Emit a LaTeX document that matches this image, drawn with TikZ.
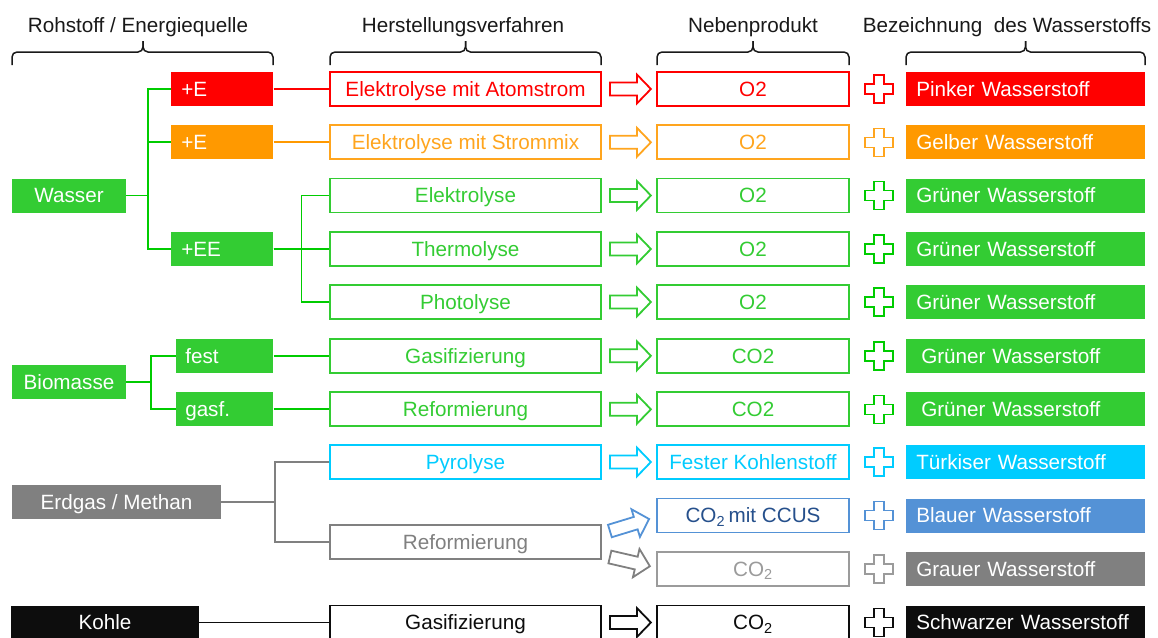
\documentclass[tikz,border=0pt]{standalone}
\usepackage{fontspec}
\setmainfont{Liberation Sans}
\newlength\pxu \setlength\pxu{0.75pt}
\definecolor{cRed}{RGB}{255,0,0}
\definecolor{cOrange}{RGB}{255,153,0}
\definecolor{cOrangeL}{RGB}{255,165,30}
\definecolor{cGreen}{RGB}{51,204,51}
\definecolor{cLine}{RGB}{0,204,0}
\definecolor{cCyan}{RGB}{0,204,255}
\definecolor{cBlue}{RGB}{84,146,214}
\definecolor{cDBlue}{RGB}{38,80,140}
\definecolor{cGrey}{RGB}{128,128,128}
\definecolor{cGreyL}{RGB}{155,155,155}
\definecolor{cBlack}{RGB}{13,13,13}
\definecolor{cHead}{RGB}{25,25,25}
\newcommand\mybrace[3]{%
  \draw[brace] (#1,65) -- (#1,52) -- (#3,52) -- (#3,41);
  \draw[brace] (#2,65) -- (#2,52) -- (#3,52) -- (#3,41);}
\tikzset{
  base/.style={font=\fontsize{15.5}{18}\selectfont, inner sep=0pt, text height=11.1pt, text depth=0pt},
  hdr/.style={base, text=cHead},
  cbox/.style={base, fill=#1, text=white, minimum height=34\pxu},
  lbox/.style={base, fill=#1, text=white, minimum height=34\pxu, align=left, inner xsep=10\pxu, anchor=west},
  obox/.style={base, draw=#1, text=#1, fill=white, line width=1.8\pxu, minimum height=34\pxu},
  proc/.style={obox=#1, minimum width=271\pxu},
  prod/.style={obox=#1, minimum width=192\pxu},
  link/.style={draw=#1, line width=1.8\pxu},
  brace/.style={draw=cHead, line width=1.5\pxu, rounded corners=5\pxu},
  blockarrow/.pic={\path[pic actions, fill=white, line join=miter, line width=1.8\pxu]
    (0,-6.5) -- (27,-6.5) -- (27,-14.5) -- (41,0) -- (27,14.5) -- (27,6.5) -- (0,6.5) -- cycle;},
  plusmark/.pic={\path[pic actions, fill=white, line join=miter, line width=1.5\pxu]
    (-5,-14) -- (5,-14) -- (5,-5) -- (14,-5) -- (14,5) -- (5,5) -- (5,14) -- (-5,14) -- (-5,5)
    -- (-14,5) -- (-14,-5) -- (-5,-5) -- cycle;},
}
\begin{document}
\begin{tikzpicture}[x=0.75pt,y=-0.75pt]
\useasboundingbox (0,0) rectangle (1158,637);
\clip (0,0) rectangle (1158,637);

% headers
\node[hdr] (hRoh) at (138,25) {Rohstoff / Energiequelle};
\node[hdr] (hHer) at (463,25) {Herstellungsverfahren};
\node[hdr] (hNeb) at (753,25) {Nebenprodukt};
\node[hdr] (hBez) at (1007,25) {Bezeichnung~ des Wasserstoffs};
\mybrace{12}{273}{143}
\mybrace{330}{601}{465.5}
\mybrace{657}{849}{753}
\mybrace{906}{1145}{1025.5}

% sources
\node[cbox=cGreen, minimum width=114\pxu] (wasser) at (69,195.5) {Wasser};
\node[lbox=cRed, text width=82\pxu] (eA) at (171,89) {+E};
\node[lbox=cOrange, text width=82\pxu] (eB) at (171,142.3) {+E};
\node[lbox=cGreen, text width=82\pxu] (eE) at (171,249) {+EE};
\node[cbox=cGreen, minimum width=114\pxu] (bio) at (69,382) {Biomasse};
\node[lbox=cGreen, text width=79\pxu, inner xsep=9\pxu] (fest) at (176,355.8) {fest};
\node[lbox=cGreen, text width=79\pxu, inner xsep=9\pxu] (gasf) at (176,409.3) {gasf.};
\node[cbox=cGrey, minimum width=209\pxu] (erdgas) at (116.5,502) {Erdgas / Methan};
\node[cbox=cBlack, minimum width=188\pxu] (kohle) at (105,622.5) {Kohle};

% processes
\node[proc=cRed] (p1) at (465.5,89) {Elektrolyse mit Atomstrom};
\node[proc=cOrangeL] (p2) at (465.5,142.3) {Elektrolyse mit Strommix};
\node[proc=cGreen] (p3) at (465.5,195.5) {Elektrolyse};
\node[proc=cGreen] (p4) at (465.5,249) {Thermolyse};
\node[proc=cGreen] (p5) at (465.5,302) {Photolyse};
\node[proc=cGreen] (p6) at (465.5,355.8) {Gasifizierung};
\node[proc=cGreen] (p7) at (465.5,409.3) {Reformierung};
\node[proc=cCyan] (p8) at (465.5,462) {Pyrolyse};
\node[proc=cGrey] (p9) at (465.5,542) {Reformierung};
\node[proc=cBlack] (p10) at (465.5,622.5) {Gasifizierung};

% by-products
\node[prod=cRed] (b1) at (753,89) {O2};
\node[prod=cOrangeL] (b2) at (753,142.3) {O2};
\node[prod=cGreen] (b3) at (753,195.5) {O2};
\node[prod=cGreen] (b4) at (753,249) {O2};
\node[prod=cGreen] (b5) at (753,302) {O2};
\node[prod=cGreen] (b6) at (753,355.8) {CO2};
\node[prod=cGreen] (b7) at (753,409.3) {CO2};
\node[prod=cCyan] (b8) at (753,462) {Fester Kohlenstoff};
\node[prod=cBlue, text=cDBlue] (b9) at (753,515.5) {CO\textsubscript{2}\,mit CCUS};
\node[prod=cGreyL] (b10) at (753,569) {CO\textsubscript{2}};
\node[prod=cBlack] (b11) at (753,622.5) {CO\textsubscript{2}};

% results
\node[lbox=cRed, text width=219\pxu] (r1) at (906,89) {Pinker Wasserstoff};
\node[lbox=cOrange, text width=219\pxu] (r2) at (906,142.3) {Gelber Wasserstoff};
\node[lbox=cGreen, text width=219\pxu] (r3) at (906,195.5) {Grüner Wasserstoff};
\node[lbox=cGreen, text width=219\pxu] (r4) at (906,249) {Grüner Wasserstoff};
\node[lbox=cGreen, text width=219\pxu] (r5) at (906,302) {Grüner Wasserstoff};
\node[lbox=cGreen, text width=219\pxu] (r6) at (906,355.8) {\hspace*{5\pxu}Grüner Wasserstoff};
\node[lbox=cGreen, text width=219\pxu] (r7) at (906,409.3) {\hspace*{5\pxu}Grüner Wasserstoff};
\node[lbox=cCyan, text width=219\pxu] (r8) at (906,462) {Türkiser Wasserstoff};
\node[lbox=cBlue, text width=219\pxu] (r9) at (906,515.5) {Blauer Wasserstoff};
\node[lbox=cGrey, text width=219\pxu] (r10) at (906,569) {Grauer Wasserstoff};
\node[lbox=cBlack, text width=219\pxu] (r11) at (906,622.5) {Schwarzer Wasserstoff};

% tree connectors
\draw[link=cLine] (wasser.east) -- ++(22,0) |- (eA.west);
\draw[link=cLine] (wasser.east) -- ++(22,0) |- (eB.west);
\draw[link=cLine] (wasser.east) -- ++(22,0) |- (eE.west);
\draw[link=cRed] (eA.east) -- (p1.west);
\draw[link=cOrange] (eB.east) -- (p2.west);
\draw[link=cLine] (eE.east) -- ++(28,0) |- (p3.west);
\draw[link=cLine] (eE.east) -- (p4.west);
\draw[link=cLine] (eE.east) -- ++(28,0) |- (p5.west);
\draw[link=cLine] (bio.east) -- ++(24.7,0) |- (fest.west);
\draw[link=cLine] (bio.east) -- ++(24.7,0) |- (gasf.west);
\draw[link=cLine] (fest.east) -- (p6.west);
\draw[link=cLine] (gasf.east) -- (p7.west);
\draw[link=cGrey] (erdgas.east) -- ++(54,0) |- (p8.west);
\draw[link=cGrey] (erdgas.east) -- ++(54,0) |- (p9.west);
\draw[link=cBlack] (kohle.east) -- (p10.west);

% block arrows
\pic[draw=cRed] at ([xshift=8\pxu]p1.east) {blockarrow};
\pic[draw=cOrangeL] at ([xshift=8\pxu]p2.east) {blockarrow};
\pic[draw=cGreen] at ([xshift=8\pxu]p3.east) {blockarrow};
\pic[draw=cGreen] at ([xshift=8\pxu]p4.east) {blockarrow};
\pic[draw=cGreen] at ([xshift=8\pxu]p5.east) {blockarrow};
\pic[draw=cGreen] at ([xshift=8\pxu]p6.east) {blockarrow};
\pic[draw=cGreen] at ([xshift=8\pxu]p7.east) {blockarrow};
\pic[draw=cCyan] at ([xshift=8\pxu]p8.east) {blockarrow};
\pic[draw=cBlue, rotate=17] at ([xshift=8\pxu,yshift=11\pxu]p9.east) {blockarrow};
\pic[draw=cGrey, rotate=-13] at ([xshift=8\pxu,yshift=-15\pxu]p9.east) {blockarrow};
\pic[draw=cBlack] at ([xshift=8\pxu]p10.east) {blockarrow};

% plus signs
\pic[draw=cRed] at ([xshift=29\pxu]b1.east) {plusmark};
\pic[draw=cOrangeL] at ([xshift=29\pxu]b2.east) {plusmark};
\pic[draw=cLine] at ([xshift=29\pxu]b3.east) {plusmark};
\pic[draw=cLine] at ([xshift=29\pxu]b4.east) {plusmark};
\pic[draw=cLine] at ([xshift=29\pxu]b5.east) {plusmark};
\pic[draw=cLine] at ([xshift=29\pxu]b6.east) {plusmark};
\pic[draw=cLine] at ([xshift=29\pxu]b7.east) {plusmark};
\pic[draw=cCyan] at ([xshift=29\pxu]b8.east) {plusmark};
\pic[draw=cBlue] at ([xshift=29\pxu]b9.east) {plusmark};
\pic[draw=cGreyL] at ([xshift=29\pxu]b10.east) {plusmark};
\pic[draw=cBlack] at ([xshift=29\pxu]b11.east) {plusmark};
\end{tikzpicture}
\end{document}
